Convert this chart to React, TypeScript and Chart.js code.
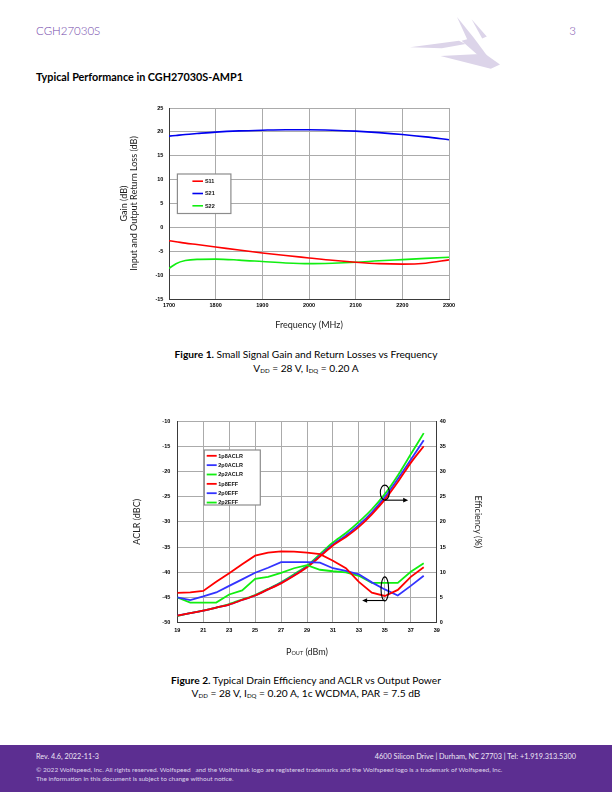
import React, { useEffect, useRef } from "react";
import { Chart, registerables } from "chart.js";

Chart.register(...registerables);

// ---------- Figure 1 data ----------
const freqMHz = [1700, 1715, 1735, 1760, 1800, 1850, 1900, 1950, 2000, 2050, 2100, 2150, 2200, 2250, 2300];
const s11 = [-2.8, -3.0, -3.3, -3.6, -4.1, -4.75, -5.35, -5.9, -6.4, -6.9, -7.3, -7.6, -7.7, -7.5, -6.8];
const s21 = [19.1, 19.25, 19.45, 19.65, 19.95, 20.2, 20.35, 20.45, 20.45, 20.35, 20.15, 19.85, 19.45, 18.95, 18.35];
const s22 = [-8.6, -7.6, -6.95, -6.7, -6.65, -6.85, -7.15, -7.45, -7.6, -7.5, -7.3, -7.0, -6.75, -6.5, -6.25];
const fig1Labels = ["S11", "S21", "S22"];

// ---------- Figure 2 data ----------
const poutDbm = [19, 20, 21, 22, 23, 24, 25, 26, 27, 28, 29, 30, 31, 32, 33, 34, 35, 36, 37, 38];
const aclr1p8 = [-44.1, -44.0, -43.7, -41.9, -40.2, -38.4, -36.7, -36.1, -35.85, -35.9, -36.1, -36.4, -37.7, -39.2, -41.9, -44.05, -44.7, -43.5, -40.9, -39.0];
const aclr2p0 = [-45.0, -45.5, -44.8, -44.0, -42.7, -41.4, -40.1, -39.1, -38.0, -38.0, -38.0, -38.1, -39.2, -39.7, -40.4, -42.0, -43.4, -44.6, -42.7, -40.7];
const aclr2p2 = [-45.0, -46.0, -46.0, -46.0, -44.4, -43.6, -41.3, -40.9, -40.1, -39.2, -38.6, -39.5, -39.8, -40.0, -40.7, -42.1, -42.1, -42.1, -39.9, -38.2];
const eff1p8 = [1.4, 1.9, 2.4, 3.0, 3.6, 4.5, 5.4, 6.6, 7.8, 9.3, 11.0, 13.1, 15.3, 17.0, 19.0, 21.5, 24.4, 27.9, 31.7, 35.0];
const eff2p0 = [1.4, 1.9, 2.4, 3.0, 3.6, 4.5, 5.4, 6.6, 7.9, 9.4, 11.1, 13.3, 15.5, 17.3, 19.4, 21.9, 24.9, 28.5, 32.3, 36.2];
const eff2p2 = [1.3, 1.9, 2.4, 3.0, 3.7, 4.6, 5.5, 6.7, 8.0, 9.6, 11.3, 13.6, 15.9, 17.8, 20.0, 22.5, 25.5, 29.2, 33.4, 37.6];
const fig2Labels = ["1p8ACLR", "2p0ACLR", "2p2ACLR", "1p8EFF", "2p0EFF", "2p2EFF"];

const RED = "#FF0000";
const BLUE1 = "#0000F0";
const BLUE2 = "#3333FF";
const GREEN = "#11EE11";

const tickFont = { family: "'Liberation Sans', Arial, sans-serif", size: 5.5, weight: "bold" as const };
const titleFont = { family: "Lato, 'Noto Sans', sans-serif", size: 9, lineHeight: 1.1 };
const GRID = "#ABABAB";
const AXIS = "#3A3A3A";

const boxLegendPlugin = {
  id: "boxLegend",
  afterDatasetsDraw(chart: any, _a: any, o: any) {
    const { ctx, chartArea } = chart;
    const x = chartArea.left + o.dx;
    const y = chartArea.top + o.dy;
    ctx.save();
    ctx.fillStyle = "#fff";
    ctx.fillRect(x, y, o.w, o.h);
    ctx.strokeStyle = "#8C8C8C";
    ctx.lineWidth = 1.2;
    ctx.strokeRect(x, y, o.w, o.h);
    chart.data.datasets.forEach((ds: any, i: number) => {
      const ry = y + o.first + i * o.gap;
      ctx.strokeStyle = ds.borderColor;
      ctx.lineWidth = o.lw;
      ctx.beginPath();
      ctx.moveTo(x + o.l0, ry);
      ctx.lineTo(x + o.l1, ry);
      ctx.stroke();
      ctx.fillStyle = "#111";
      ctx.font = "bold 5.5px 'Liberation Sans', Arial, sans-serif";
      ctx.textBaseline = "middle";
      ctx.textAlign = "left";
      ctx.fillText(ds.label, x + o.tx, ry + 0.3);
    });
    ctx.restore();
  },
};

function arrow(ctx: CanvasRenderingContext2D, x0: number, y: number, x1: number) {
  const dir = x1 > x0 ? 1 : -1;
  ctx.beginPath();
  ctx.moveTo(x0, y);
  ctx.lineTo(x1 - dir * 4, y);
  ctx.stroke();
  ctx.beginPath();
  ctx.moveTo(x1, y);
  ctx.lineTo(x1 - dir * 5, y - 2.3);
  ctx.lineTo(x1 - dir * 5, y + 2.3);
  ctx.closePath();
  ctx.fill();
}

const annotPlugin = {
  id: "annot",
  afterDatasetsDraw(chart: any) {
    const { ctx, scales } = chart;
    const xs = scales.x, yl = scales.yL, yr = scales.yR;
    ctx.save();
    ctx.strokeStyle = "#000";
    ctx.fillStyle = "#000";
    ctx.lineWidth = 1.1;
    const cx = xs.getPixelForValue(35);
    ctx.beginPath();
    ctx.ellipse(cx, yr.getPixelForValue(25.8), 4.5, 7.5, 0, 0, Math.PI * 2);
    ctx.stroke();
    arrow(ctx, cx, yr.getPixelForValue(24.3), xs.getPixelForValue(36.8));
    ctx.beginPath();
    ctx.ellipse(cx, yl.getPixelForValue(-43.3), 3.8, 12, 0, 0, Math.PI * 2);
    ctx.stroke();
    arrow(ctx, cx, yl.getPixelForValue(-45.6), xs.getPixelForValue(33.25));
    ctx.restore();
  },
};

const poutTitlePlugin = {
  id: "poutTitle",
  afterDraw(chart: any, _a: any, o: any) {
    const { ctx, chartArea } = chart;
    const big = "9px Lato, 'Noto Sans', sans-serif";
    const small = "5.5px Lato, 'Noto Sans', sans-serif";
    ctx.save();
    ctx.fillStyle = "#222";
    ctx.textBaseline = "middle";
    ctx.textAlign = "left";
    ctx.font = big;
    const wP = ctx.measureText("P").width;
    const wR = ctx.measureText(" (dBm)").width;
    ctx.font = small;
    const wS = ctx.measureText("OUT").width;
    const total = wP + wS + wR;
    let x = (chartArea.left + chartArea.right) / 2 - total / 2;
    const y = o.y;
    ctx.font = big;
    ctx.fillText("P", x, y);
    x += wP;
    ctx.font = small;
    ctx.fillText("OUT", x, y + 2);
    x += wS;
    ctx.font = big;
    ctx.fillText(" (dBm)", x, y);
    ctx.restore();
  },
};

function Figure1() {
  const ref = useRef<HTMLCanvasElement>(null);
  useEffect(() => {
    const mk = (label: string, data: number[], color: string) => ({
      label,
      data: freqMHz.map((f, i) => ({ x: f, y: data[i] })),
      borderColor: color,
      backgroundColor: color,
      borderWidth: 1.6,
      pointRadius: 0,
      cubicInterpolationMode: "monotone" as const,
      fill: false,
    });
    const chart = new Chart(ref.current!, {
      type: "line",
      data: {
        datasets: [mk(fig1Labels[0], s11, RED), mk(fig1Labels[1], s21, BLUE1), mk(fig1Labels[2], s22, GREEN)],
      },
      plugins: [boxLegendPlugin],
      options: {
        animation: false,
        responsive: false,
        devicePixelRatio: 1,
        layout: { padding: { top: 13, right: 31, bottom: 0, left: 0 } },
        plugins: {
          legend: { display: false },
          tooltip: { enabled: false },
          boxLegend: { dx: 8.4, dy: 66, w: 53.5, h: 39.5, first: 7.2, gap: 12.3, l0: 15, l1: 25.6, tx: 27.5, lw: 1.6 },
        } as any,
        scales: {
          x: {
            type: "linear",
            min: 1700,
            max: 2300,
            ticks: { stepSize: 100, font: tickFont, color: "#000", padding: 3.4, callback: (v: any) => String(v) },
            grid: { color: GRID, lineWidth: 1, drawTicks: false },
            border: { color: AXIS, width: 1 },
            title: { display: true, text: "Frequency (MHz)", font: titleFont, color: "#222", padding: { top: 0, bottom: 15 } },
            afterFit: (s: any) => { s.height = 46; },
          },
          y: {
            min: -15,
            max: 25,
            ticks: { stepSize: 5, font: tickFont, color: "#000", padding: 5.6 },
            grid: { color: GRID, lineWidth: 1, drawTicks: false },
            border: { color: AXIS, width: 1 },
            title: {
              display: true,
              text: ["Gain (dB)", "Input and Output Return Loss (dB)"],
              font: titleFont,
              color: "#222",
              padding: { top: 19, bottom: 0 },
            },
            afterFit: (s: any) => { s.width = 69; },
          },
        },
      },
    });
    return () => chart.destroy();
  }, []);
  return <canvas ref={ref} width={380} height={250} style={{ position: "absolute", left: 100, top: 95, width: 380, height: 250 }} />;
}

function Figure2() {
  const ref = useRef<HTMLCanvasElement>(null);
  useEffect(() => {
    const mk = (label: string, data: number[], color: string, axis: string, tension: number) => ({
      label,
      data: poutDbm.map((p, i) => ({ x: p, y: data[i] })),
      borderColor: color,
      backgroundColor: color,
      borderWidth: 1.8,
      pointRadius: 0,
      tension,
      yAxisID: axis,
      fill: false,
    });
    const chart = new Chart(ref.current!, {
      type: "line",
      data: {
        datasets: [
          mk(fig2Labels[0], aclr1p8, RED, "yL", 0),
          mk(fig2Labels[1], aclr2p0, BLUE2, "yL", 0),
          mk(fig2Labels[2], aclr2p2, GREEN, "yL", 0),
          mk(fig2Labels[3], eff1p8, RED, "yR", 0.3),
          mk(fig2Labels[4], eff2p0, BLUE2, "yR", 0.3),
          mk(fig2Labels[5], eff2p2, GREEN, "yR", 0.3),
        ],
      },
      plugins: [boxLegendPlugin, annotPlugin, poutTitlePlugin],
      options: {
        animation: false,
        responsive: false,
        devicePixelRatio: 1,
        layout: { padding: { top: 16, right: 0, bottom: 0, left: 0 } },
        plugins: {
          legend: { display: false },
          tooltip: { enabled: false },
          boxLegend: { dx: 27, dy: 29, w: 56, h: 55, first: 5.8, gap: 9.35, l0: 2.4, l1: 12.4, tx: 14, lw: 1.8 },
          poutTitle: { y: 246.7 },
        } as any,
        scales: {
          x: {
            type: "linear",
            min: 19,
            max: 39,
            ticks: { stepSize: 2, font: tickFont, color: "#000", padding: 4 },
            grid: { color: GRID, lineWidth: 1, drawTicks: false },
            border: { color: AXIS, width: 1 },
            afterFit: (s: any) => { s.height = 47.3; },
          },
          yL: {
            position: "left",
            min: -50,
            max: -10,
            ticks: { stepSize: 5, font: tickFont, color: "#000", padding: 7 },
            grid: { color: GRID, lineWidth: 1, drawTicks: false },
            border: { color: AXIS, width: 1 },
            title: { display: true, text: "ACLR (dBC)", font: titleFont, color: "#222", padding: { top: 22, bottom: 0 } },
            afterFit: (s: any) => { s.width = 67.3; },
          },
          yR: {
            position: "right",
            min: 0,
            max: 40,
            ticks: { stepSize: 5, font: tickFont, color: "#000", padding: 3 },
            grid: { drawOnChartArea: false, drawTicks: false },
            border: { color: AXIS, width: 1 },
            title: { display: true, text: "Efficiency (%)", font: titleFont, color: "#222", padding: { top: 17, bottom: 0 } },
            afterFit: (s: any) => { s.width = 63.3; },
          },
        },
      },
    });
    return () => chart.destroy();
  }, []);
  return <canvas ref={ref} width={390} height={265} style={{ position: "absolute", left: 110, top: 405, width: 390, height: 265 }} />;
}

const FONT = "Lato, 'Noto Sans', sans-serif";

function T(props: { x?: number; cx?: number; right?: number; cy: number; size: number; color?: string; weight?: number; children: React.ReactNode }) {
  const lh = Math.round(props.size * 1.6);
  const style: React.CSSProperties = {
    position: "absolute",
    top: props.cy - lh / 2,
    height: lh,
    lineHeight: lh + "px",
    fontSize: props.size,
    color: props.color || "#000",
    fontWeight: props.weight || 400,
    whiteSpace: "nowrap",
    fontFamily: FONT,
  };
  if (props.cx !== undefined) {
    style.left = 0;
    style.width = props.cx * 2;
    style.textAlign = "center";
  } else if (props.right !== undefined) {
    style.right = 612 - props.right;
  } else {
    style.left = props.x;
  }
  return <div style={style}>{props.children}</div>;
}

const sub: React.CSSProperties = { fontSize: "0.6em", verticalAlign: "-0.15em" };

export default function App() {
  return (
    <div style={{ position: "absolute", left: 0, top: 0, width: 612, height: 792, background: "#fff", overflow: "hidden", fontFamily: FONT }}>
      {/* header */}
      <T x={36} cy={31} size={11.5} color="#7246AA" weight={300}>CGH27030S</T>
      <T right={576} cy={31} size={11.5} color="#7246AA" weight={300}>3</T>
      <svg width={612} height={90} style={{ position: "absolute", left: 0, top: 0 }}>
        <polygon points="410,47.2 459,40.8 465.6,44 441.8,48.3" fill="#DCD4E9" />
        <polygon points="457,17 473.6,37.5 468.3,41.8" fill="#DCD4E9" />
        <polygon points="471.6,19.2 486.8,36.4 482.2,38.6" fill="#DCD4E9" />
        <polygon points="461.6,40.8 473.6,37.5 488.8,58 482.2,59.1" fill="#DCD4E9" />
        <polygon points="440.5,55.9 484.8,53.7 500,64.5 490.8,68.8" fill="#DCD4E9" />
      </svg>
      <T x={36} cy={76} size={10.8} weight={700}>Typical Performance in CGH27030S-AMP1</T>

      <Figure1 />
      <T cx={306} cy={354} size={10.2}>
        <b>Figure 1.</b> Small Signal Gain and Return Losses vs Frequency
      </T>
      <T cx={306} cy={368} size={10.2}>
        V<span style={sub}>DD</span> = 28 V, I<span style={sub}>DQ</span> = 0.20 A
      </T>

      <Figure2 />
      <T cx={306} cy={680} size={10.2}>
        <b>Figure 2.</b> Typical Drain Efficiency and ACLR vs Output Power
      </T>
      <T cx={306} cy={693} size={10.2}>
        V<span style={sub}>DD</span> = 28 V, I<span style={sub}>DQ</span> = 0.20 A, 1c WCDMA, PAR = 7.5 dB
      </T>

      {/* footer */}
      <div style={{ position: "absolute", left: 0, top: 745, width: 612, height: 47, background: "#5C2E91" }} />
      <T x={36} cy={757} size={7.2} color="#ECE6F4">Rev. 4.6, 2022-11-3</T>
      <T right={576} cy={757} size={7.3} color="#ECE6F4">4600 Silicon Drive | Durham, NC 27703 | Tel: +1.919.313.5300</T>
      <T x={36} cy={770} size={6.5} color="#DCD2EA">
        © 2022 Wolfspeed, Inc. All rights reserved. Wolfspeed&nbsp;&nbsp; and the Wolfstreak logo are registered trademarks and the Wolfspeed logo is a trademark of Wolfspeed, Inc.
      </T>
      <T x={36} cy={779} size={6.5} color="#DCD2EA">The information in this document is subject to change without notice.</T>
    </div>
  );
}
